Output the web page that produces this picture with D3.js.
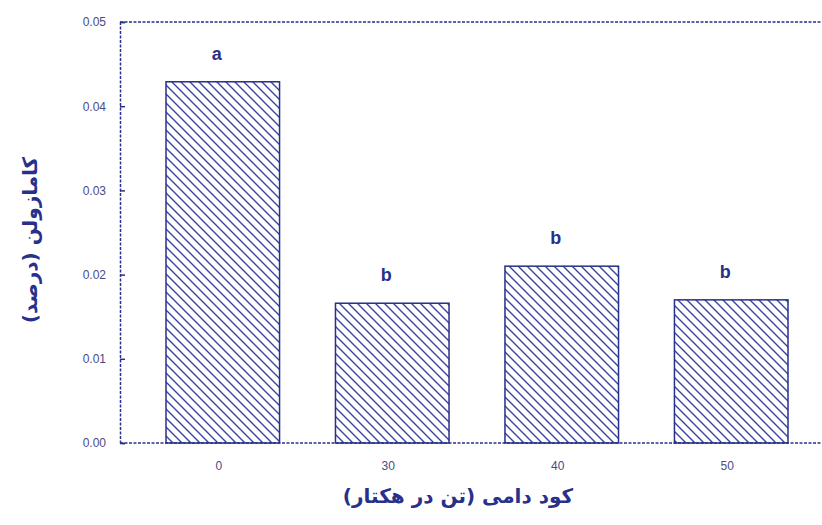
<!DOCTYPE html>
<html><head><meta charset="utf-8">
<script src="https://cdn.jsdelivr.net/npm/d3@7"></script>
<style>body{margin:0;background:#fff;}svg{display:block;}</style>
</head><body>
<script>
const categories = ["0", "30", "40", "50"];
const values = [0.0429, 0.0166, 0.0210, 0.0170];
const letters = ["a", "b", "b", "b"];
const yTicks = [0, 0.01, 0.02, 0.03, 0.04, 0.05];
const yTitle = "کامازولن (درصد)";
const xTitle = "کود دامی (تن در هکتار)";

(function () {
const W = 822, H = 525;
const col = "#27308a";
const svg = d3.select("body").append("svg").attr("width", W).attr("height", H);

const defs = svg.append("defs");
const pat = defs.append("pattern").attr("id", "hatch").attr("patternUnits", "userSpaceOnUse")
  .attr("width", 9).attr("height", 9);
pat.append("path").attr("d", "M0,0L9,9M-1,8L1,10M8,-1L10,1")
  .attr("stroke", "#3a43a0").attr("stroke-width", 1.4);

const pLeft = 120, pTop = 22, pBottom = 443;
const y = d3.scaleLinear().domain([0, 0.05]).range([pBottom, pTop]);
const x = d3.scaleBand().domain(categories).range([166, 788]).paddingInner(0.33).paddingOuter(0);

svg.append("line").attr("x1", pLeft).attr("x2", W).attr("y1", pTop).attr("y2", pTop)
  .attr("stroke", col).attr("stroke-width", 1.5).attr("stroke-dasharray", "3,1.5");

svg.selectAll("rect.bar").data(values).enter().append("rect")
  .attr("x", (d, i) => x(categories[i]))
  .attr("y", d => y(d))
  .attr("width", x.bandwidth())
  .attr("height", d => pBottom - y(d))
  .attr("fill", "url(#hatch)")
  .attr("stroke", col).attr("stroke-width", 1.5);

svg.selectAll("text.let").data(letters).enter().append("text")
  .attr("x", (d, i) => x(categories[i]) + x.bandwidth() / 2 - 6)
  .attr("y", (d, i) => y(values[i]) - 22)
  .attr("text-anchor", "middle")
  .attr("font-family", "Arial, Liberation Sans, sans-serif").attr("font-weight", "bold")
  .attr("font-size", 18).attr("fill", col).text(d => d);

const yAxis = d3.axisLeft(y).tickValues(yTicks).tickFormat(d3.format(".2f")).tickSize(-5).tickPadding(14);
const gy = svg.append("g").attr("transform", `translate(${pLeft},0)`).call(yAxis);
gy.select(".domain").attr("stroke", col).attr("stroke-width", 1.5).attr("stroke-dasharray", "3,1.5");
gy.selectAll(".tick line").attr("stroke", col).attr("stroke-width", 1.5);
gy.selectAll(".tick text").attr("fill", "#4a4a86").attr("font-size", 12)
  .attr("font-family", "Liberation Sans Narrow, Liberation Sans, sans-serif");

const xAxis = d3.axisBottom(x).tickSize(0).tickPadding(18);
const gx = svg.append("g").attr("transform", `translate(0,${pBottom})`).call(xAxis);
gx.select(".domain").remove();
svg.append("line").attr("x1", pLeft).attr("x2", W).attr("y1", pBottom).attr("y2", pBottom)
  .attr("stroke", col).attr("stroke-width", 1.5).attr("stroke-dasharray", "3,1.5");
gx.selectAll(".tick text").attr("fill", "#4a4a86").attr("font-size", 12)
  .attr("font-family", "Liberation Sans Narrow, Liberation Sans, sans-serif").attr("dx", -4);

svg.append("text").attr("transform", "translate(37,240) rotate(-90)")
  .attr("text-anchor", "middle").attr("font-family", "DejaVu Sans").attr("font-weight", "bold")
  .attr("font-size", 20).attr("fill", col).attr("direction", "rtl").text(yTitle);
svg.append("text").attr("x", 458).attr("y", 503)
  .attr("text-anchor", "middle").attr("font-family", "DejaVu Sans").attr("font-weight", "bold")
  .attr("font-size", 20).attr("fill", col).attr("direction", "rtl").text(xTitle);
})();
</script>
</body></html>
